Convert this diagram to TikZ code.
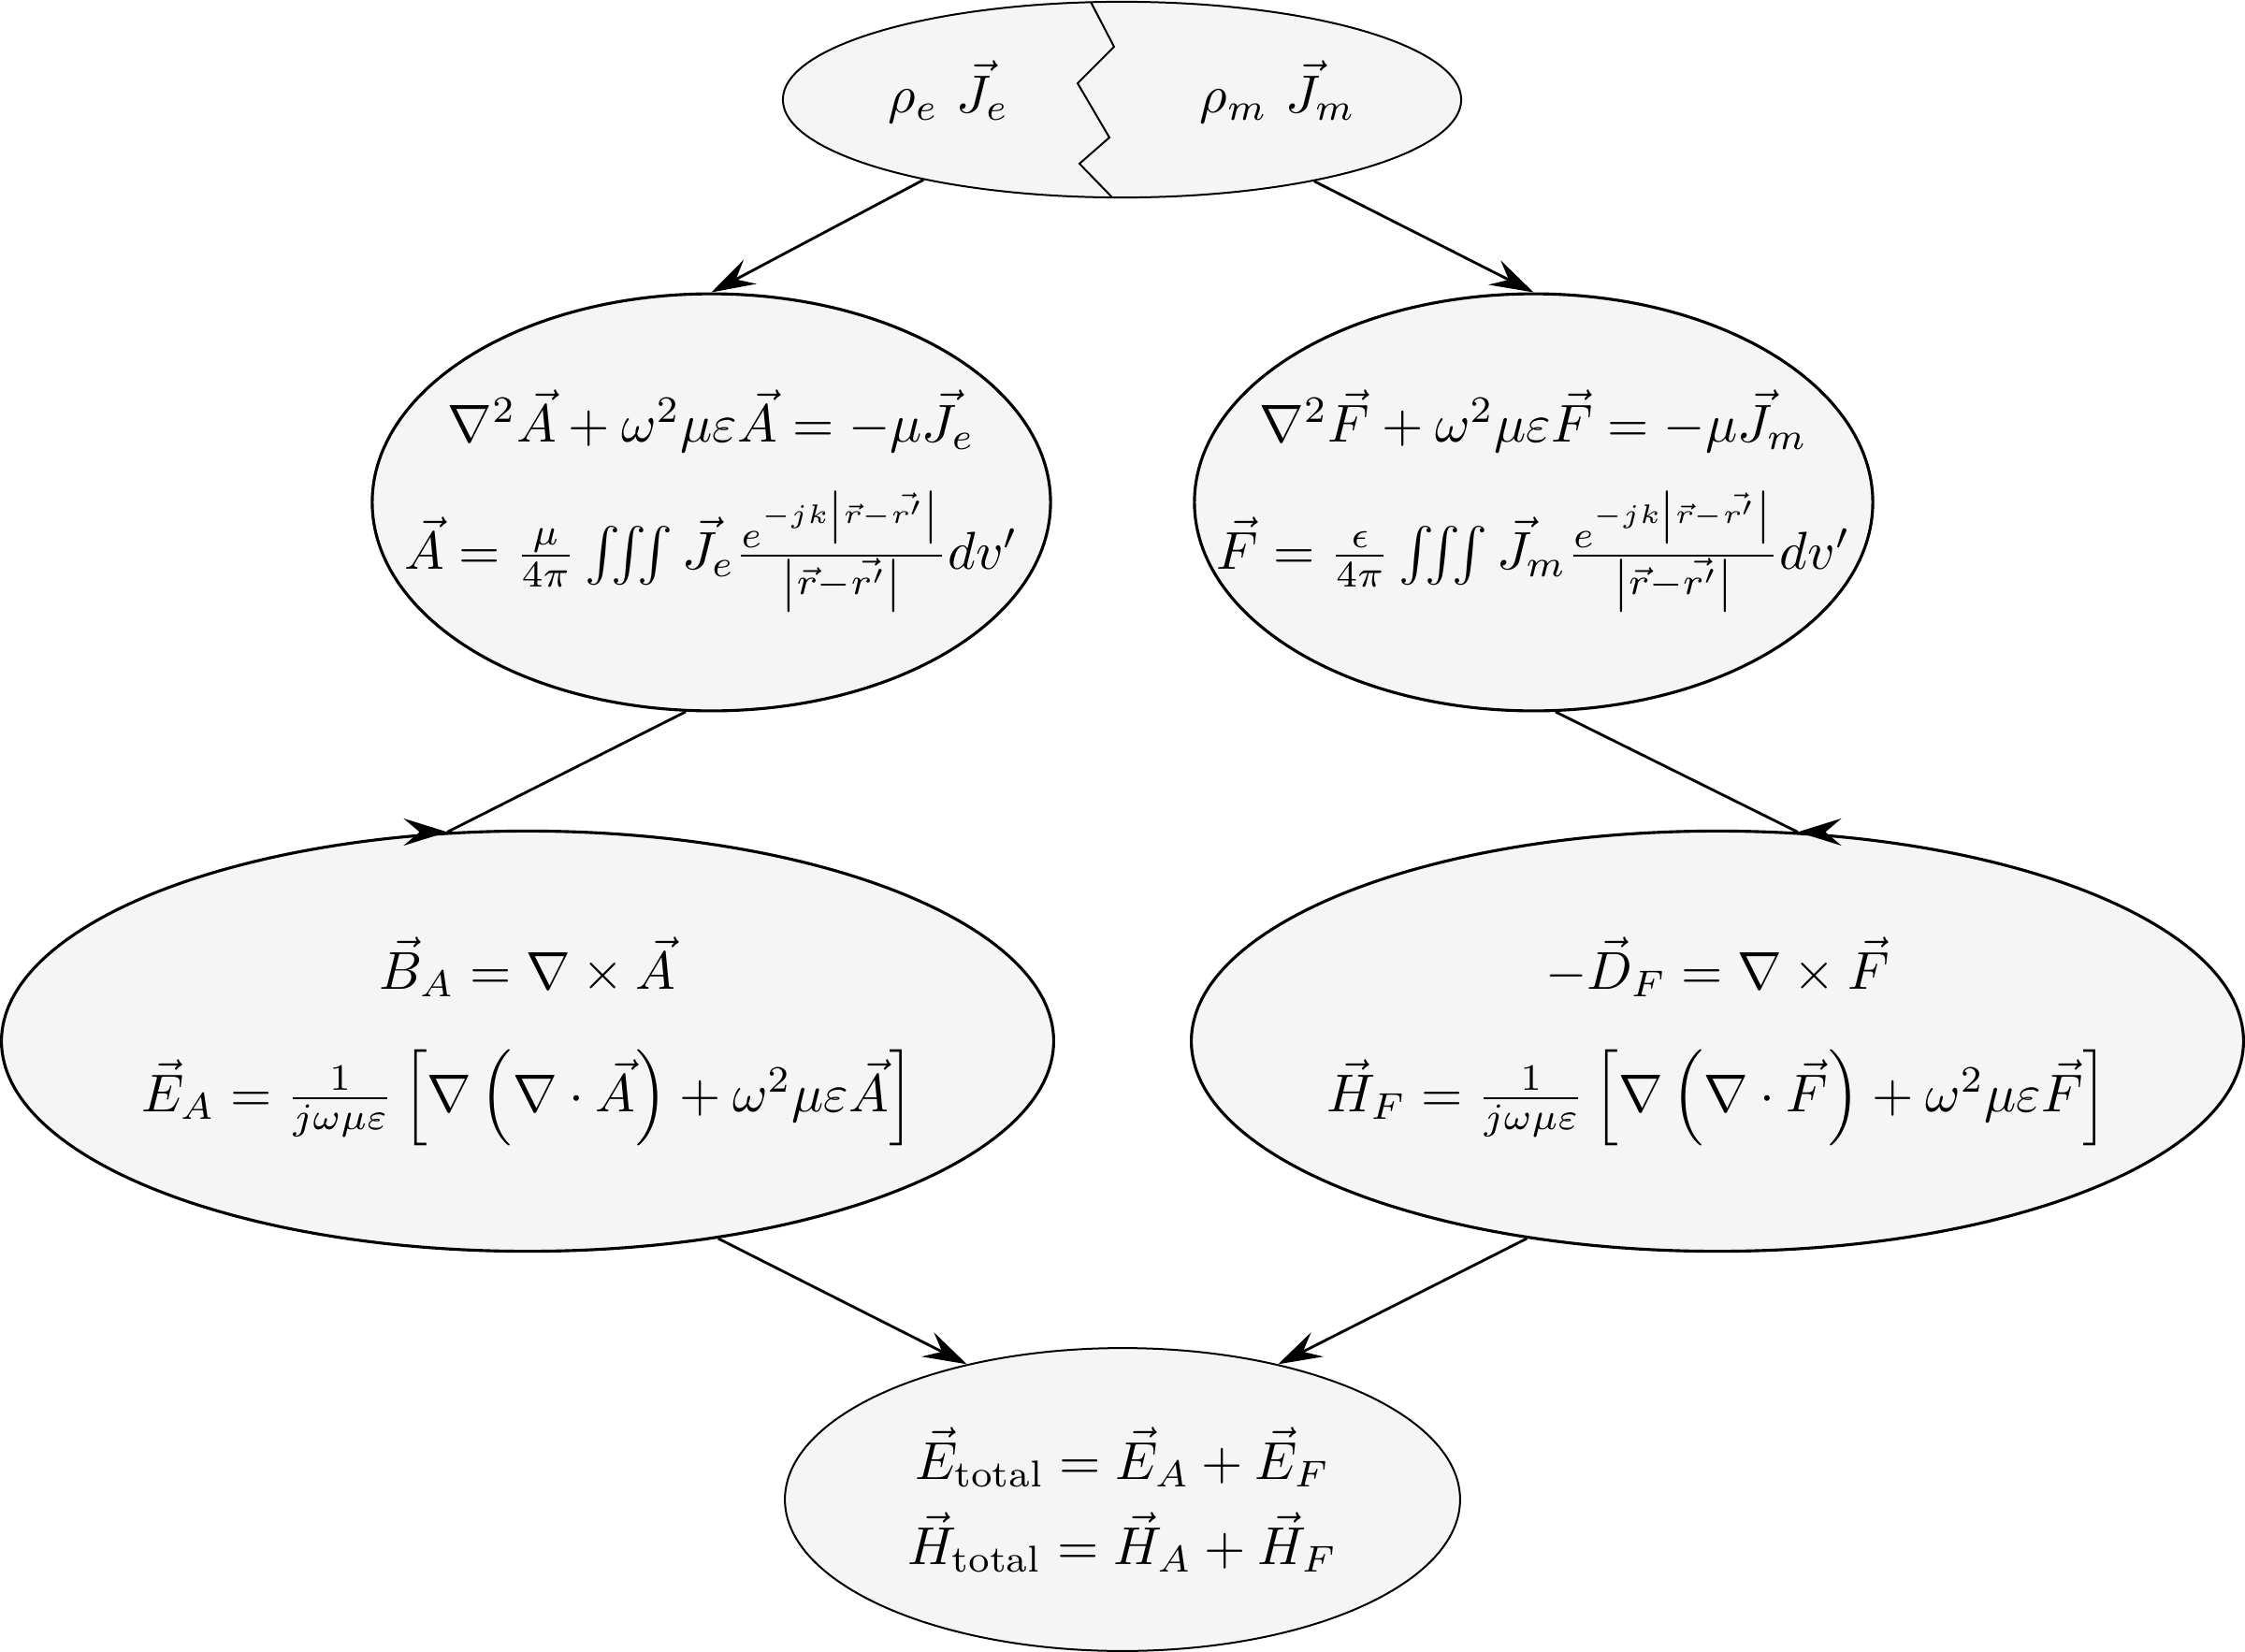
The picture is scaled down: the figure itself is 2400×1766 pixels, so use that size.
\documentclass[tikz,border=0pt]{standalone}
\usepackage{amsmath}
\usetikzlibrary{arrows.meta,shapes.geometric,calc}
\definecolor{ellfill}{RGB}{245,245,245}
\begin{document}
\begin{tikzpicture}[x=0.1754pt,y=-0.1754pt,
  ell/.style={ellipse, draw=black, fill=ellfill, line width=0.55pt, inner sep=0pt},
  ellthin/.style={ell, line width=0.35pt},
  conn/.style={line width=0.5pt},
  tipa/.style={-{Stealth[length=8.2pt,width=5.1pt,inset=3pt]}},
  eq/.style={anchor=base, inner sep=0pt}]
\useasboundingbox (0,0) rectangle (2400,1766);
% ellipses
\node[ellthin, minimum width=127.2pt, minimum height=36.7pt] (top) at (1199.5,106.5) {};
\node[ell, minimum width=127.2pt, minimum height=78.2pt] (A) at (760.5,537) {};
\node[ell, minimum width=127.2pt, minimum height=78.2pt] (F) at (1639.5,537) {};
\node[ell, minimum width=197.3pt, minimum height=78.8pt] (BA) at (564,1113) {};
\node[ell, minimum width=197.3pt, minimum height=78.8pt] (DF) at (1836,1113) {};
\node[ellthin, minimum width=126.6pt, minimum height=56.8pt] (tot) at (1200,1603) {};
% zigzag split in the source ellipse
\draw[line width=0.35pt] (1166,2) -- (1191,50) -- (1152,89) -- (1186,147) -- (1154,175) -- (1189,211);
% texts
\node[eq] (te) at (1014,120) {$\rho_e\ \vec{J}_e$};
\node[eq] (tm) at (1366,120) {$\rho_m\ \vec{J}_m$};
\node[eq] (A1) at (760.5,472) {$\nabla^2\vec{A}+\omega^2\mu\varepsilon\vec{A}=-\mu\vec{J}_e$};
\node[eq] (A2) at (760.5,608) {$\vec{A}=\frac{\mu}{4\pi}\iiint\vec{J}_e\frac{e^{-jk\left|\vec{r}-\vec{r'}\right|}}{\left|\vec{r}-\vec{r'}\right|}dv'$};
\node[eq] (F1) at (1639.5,472) {$\nabla^2\vec{F}+\omega^2\mu\varepsilon\vec{F}=-\mu\vec{J}_m$};
\node[eq] (F2) at (1639.5,608) {$\vec{F}=\frac{\epsilon}{4\pi}\iiint\vec{J}_m\frac{e^{-jk\left|\vec{r}-\vec{r'}\right|}}{\left|\vec{r}-\vec{r'}\right|}dv'$};
\node[eq] (B1) at (564,1057) {$\vec{B}_A=\nabla\times\vec{A}$};
\node[eq] (B2) at (564,1188) {$\vec{E}_A=\frac{1}{j\omega\mu\varepsilon}\left[\nabla\left(\nabla\cdot\vec{A}\right)+\omega^2\mu\varepsilon\vec{A}\right]$};
\node[eq] (D1) at (1836,1057) {$-\vec{D}_F=\nabla\times\vec{F}$};
\node[eq] (D2) at (1836,1188) {$\vec{H}_F=\frac{1}{j\omega\mu\varepsilon}\left[\nabla\left(\nabla\cdot\vec{F}\right)+\omega^2\mu\varepsilon\vec{F}\right]$};
\node[eq] (T1) at (1200,1581) {$\vec{E}_\text{total}=\vec{E}_A+\vec{E}_F$};
\node[eq] (T2) at (1200,1672) {$\vec{H}_\text{total}=\vec{H}_A+\vec{H}_F$};
% connectors
\draw[conn, tipa] (top.202.7) -- (A.north);
\draw[conn, tipa] (top.337.7) -- (F.north);
\draw[conn] (A.263.2) -- (BA.111);
\draw[conn, tipa] ($(BA.111)+(-10,0)$) -- (BA.111);
\draw[conn] (F.276.8) -- (DF.69);
\draw[conn, tipa] ($(DF.69)+(10,0)$) -- (DF.69);
\draw[conn, tipa] (BA.314) -- (tot.139);
\draw[conn, tipa] (DF.226) -- (tot.41);
\end{tikzpicture}
\end{document}
